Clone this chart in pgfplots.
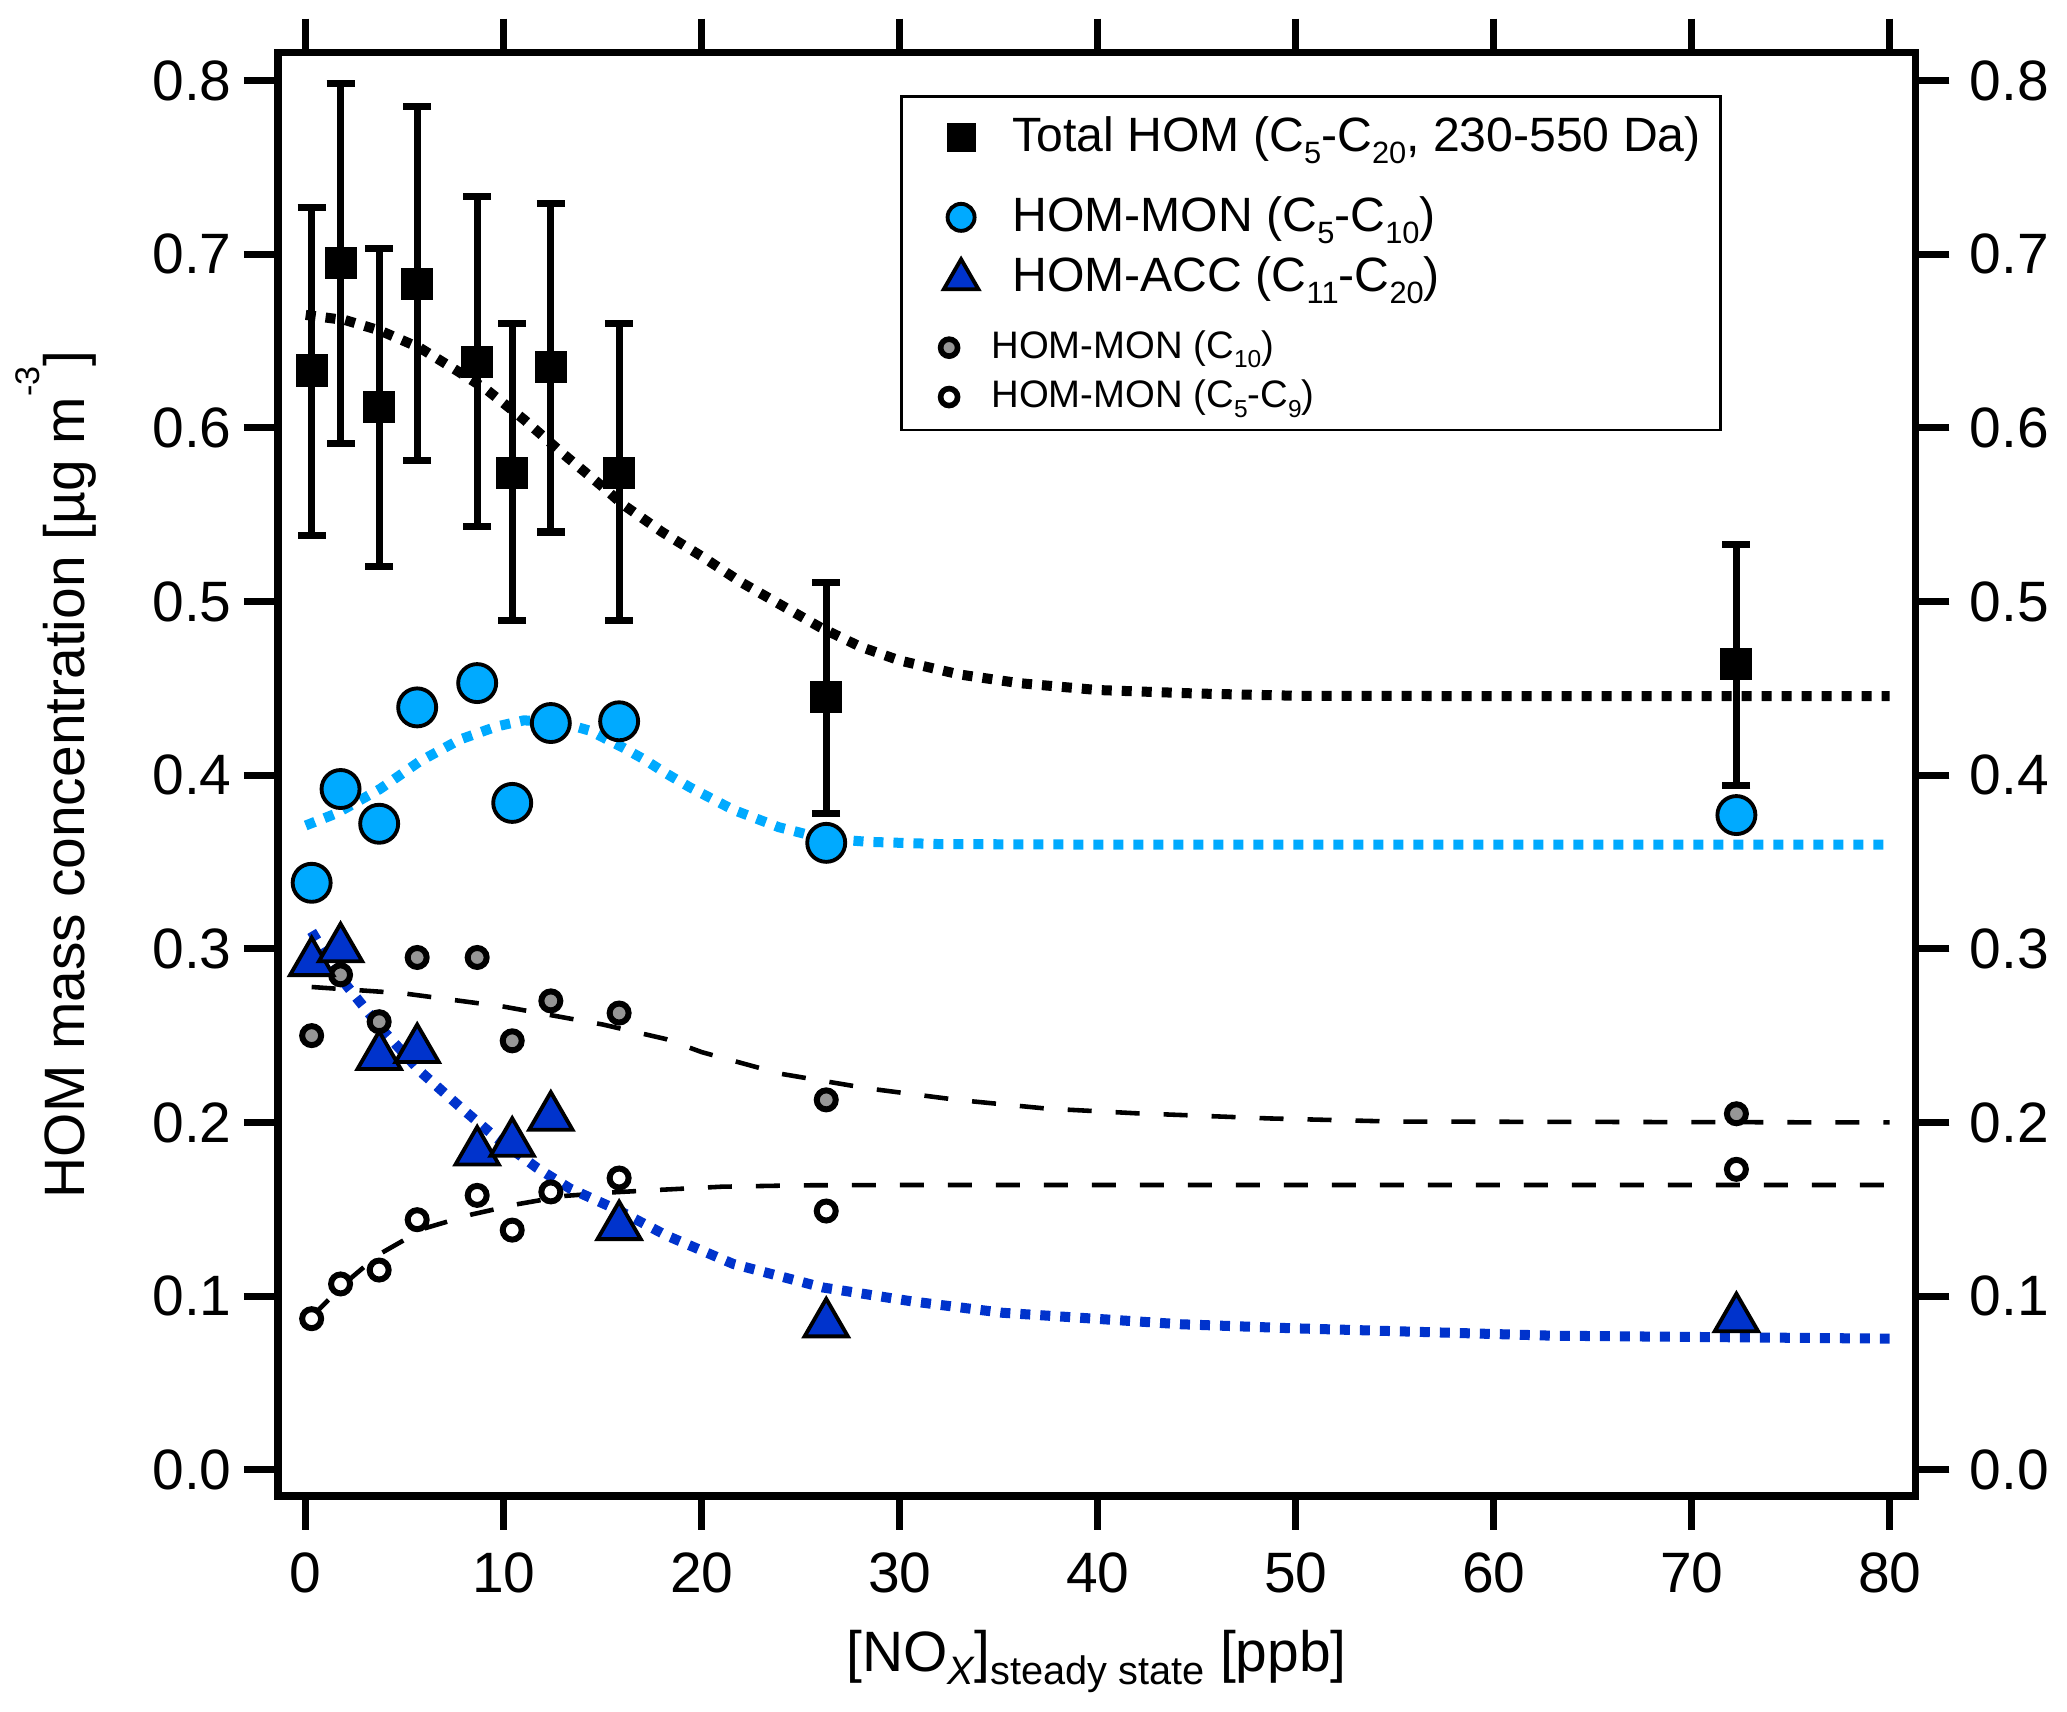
\documentclass[border=0pt]{standalone}
\usepackage{fontspec}
\setmainfont{Liberation Sans}
\usepackage{graphicx}
\usepackage{pgfplots}
\usepackage{pgfplotstable}
\pgfplotsset{compat=1.18}
\definecolor{lblue}{RGB}{0,170,255}
\definecolor{dblue}{RGB}{0,51,204}
\definecolor{mgray}{RGB}{150,150,150}
\newcommand{\sub}[1]{\raisebox{-0.25em}{\scalebox{0.64}{#1}}}
\newcommand{\rb}[3]{\raisebox{0pt}[#1][#2]{#3}}

\pgfplotstableread{
x y ep em
0.30 0.633 0.094 0.095
1.76 0.695 0.103 0.104
3.71 0.612 0.091 0.092
5.63 0.683 0.102 0.102
8.66 0.638 0.095 0.095
10.43 0.574 0.086 0.085
12.38 0.635 0.094 0.095
15.83 0.574 0.086 0.085
26.29 0.445 0.066 0.067
72.26 0.464 0.069 0.070
}\tot
\pgfplotstableread{
x y
0.30 0.338
1.76 0.392
3.71 0.372
5.63 0.439
8.66 0.453
10.43 0.384
12.38 0.430
15.83 0.431
26.29 0.361
72.26 0.377
}\mon
\pgfplotstableread{
x y
0.30 0.292
1.76 0.300
3.71 0.238
5.63 0.242
8.66 0.183
10.43 0.188
12.38 0.203
15.83 0.140
26.29 0.084
72.26 0.087
}\acc
\pgfplotstableread{
x y
0.30 0.250
1.76 0.285
3.71 0.258
5.63 0.295
8.66 0.295
10.43 0.247
12.38 0.270
15.83 0.263
26.29 0.213
72.26 0.205
}\cten
\pgfplotstableread{
x y
0.30 0.087
1.76 0.107
3.71 0.115
5.63 0.144
8.66 0.158
10.43 0.138
12.38 0.160
15.83 0.168
26.29 0.149
72.26 0.173
}\cfive

\pgfplotsset{
  common/.style={
    at={(0,0)}, anchor=south west, scale only axis,
    width=16.374cm, height=14.433cm,
    xmin=-1.4, xmax=81.3, ymin=-0.0151, ymax=0.816,
    xtick={0,10,20,30,40,50,60,70,80},
    ytick={0,0.1,0.2,0.3,0.4,0.5,0.6,0.7,0.8},
    minor tick num=0,
    tick align=outside, major tick length=0.34cm,
    tick style={line width=2pt, black},
    axis line style={line width=2.1pt, black},
    ticklabel style={font=\fontsize{16.2}{19}\selectfont},
    /pgf/number format/assume math mode=true,
    yticklabel style={/pgf/number format/fixed, /pgf/number format/fixed zerofill, /pgf/number format/precision=1},
  },
  dotfit/.style={line width=2.85pt, dash pattern=on 0.1cm off 0.1cm},
  dashfit/.style={line width=1.3pt, black, dash pattern=on 0.24cm off 0.24cm},
}

\begin{document}
\begin{tikzpicture}
\useasboundingbox (-2.78cm,-2.16cm) rectangle (17.89cm,14.96cm);
\begin{axis}[common,
  xticklabel style={yshift=-0.1cm},
  xlabel={[NO\raisebox{-3.7pt}{\fontsize{11.3}{13}\selectfont\itshape X}]\raisebox{-3.7pt}{\fontsize{11.3}{13}\selectfont steady state} [ppb]},
  xlabel style={at={(axis description cs:0.5,-0.1217)}, anchor=base, font=\fontsize{16.2}{19}\selectfont},
  ylabel={HOM mass concentration [µg m\raisebox{0.8em}{\scalebox{0.6}{-3}}]},
  ylabel style={at={(axis description cs:-0.1179,0.5)}, anchor=base, rotate=0, font=\fontsize{16.2}{19}\selectfont},
  legend style={at={(axis description cs:0.3809,0.9699)}, anchor=north west,
    draw=black, line width=0.8pt, fill=white, inner xsep=0.1cm, inner ysep=0pt, outer sep=0pt,
    row sep=0pt, column sep=0.28cm,
    cells={anchor=base west, inner sep=0pt, outer sep=0pt},
    nodes={anchor=base west, inner sep=0pt, outer sep=0pt}},
]
% legend images
\addlegendimage{legend image code/.code={
  \path (0,-0.1cm) (0.7cm,0.1cm);
  \draw[yshift=0.145cm] plot[mark=square*, mark size=0.14cm, mark options={fill=black, draw=black, line width=0.3pt, solid}] coordinates {(0.48cm,0cm)};}}
\addlegendentry{\fontsize{13.7}{16}\selectfont\rb{0.555cm}{0.3cm}{\makebox[6.98cm][l]{Total HOM (C\sub{5}-C\sub{20}, 230-550 Da)}}}
\addlegendimage{legend image code/.code={
  \path (0,-0.1cm) (0.7cm,0.1cm);
  \draw[yshift=0.145cm] plot[mark=*, mark size=0.135cm, mark options={fill=lblue, draw=black, line width=1.1pt, solid}] coordinates {(0.48cm,0cm)};}}
\addlegendentry{\fontsize{13.7}{16}\selectfont\rb{0.688cm}{0.2cm}{HOM-MON (C\sub{5}-C\sub{10})}}
\addlegendimage{legend image code/.code={
  \path (0,-0.1cm) (0.7cm,0.1cm);
  \draw[yshift=0.126cm] plot[mark=triangle*, mark size=0.2cm, mark options={fill=dblue, draw=black, line width=1.1pt, solid}] coordinates {(0.48cm,0cm)};}}
\addlegendentry{\fontsize{13.7}{16}\selectfont\rb{0.486cm}{0.2cm}{HOM-ACC (C\sub{11}-C\sub{20})}}
\addlegendimage{legend image code/.code={
  \path (0,-0.1cm) (0.7cm,0.1cm);
  \draw[yshift=0.105cm] plot[mark=*, mark size=0.085cm, mark options={fill=mgray, draw=black, line width=1.6pt, solid}] coordinates {(0.36cm,0cm)};}}
\addlegendentry{\fontsize{10.9}{13}\selectfont\rb{0.549cm}{0.2cm}{\hspace*{-0.21cm}HOM-MON (C\sub{10})}}
\addlegendimage{legend image code/.code={
  \path (0,-0.21cm) (0.7cm,0.1cm);
  \draw[yshift=0.105cm] plot[mark=*, mark size=0.085cm, mark options={fill=white, draw=black, line width=1.6pt, solid}] coordinates {(0.36cm,0cm)};}}
\addlegendentry{\fontsize{10.9}{13}\selectfont\rb{0.38cm}{0.2cm}{\hspace*{-0.21cm}HOM-MON (C\sub{5}-C\sub{9})}}

% fit curves
\addplot[dashfit, forget plot] coordinates {
(0.3,0.278) (4.9,0.2744) (10,0.2667) (15,0.2564) (18.2,0.248) (20,0.2405) (24,0.228) (28.4,0.2196) (32.9,0.213) (37.4,0.208) (41.9,0.2053) (48.7,0.2023) (55,0.2005) (80,0.200)};
\addplot[dashfit, forget plot] coordinates {
(0.3,0.088) (1.76,0.105) (2.4,0.1115) (3.7,0.124) (6.0,0.139) (8.38,0.147) (10.73,0.153) (13.09,0.1577) (15.45,0.1597) (17.9,0.1612) (21,0.1630) (25,0.1638) (30,0.164) (80,0.164)};
\addplot[dotfit, black, forget plot] coordinates {
(0,0.665) (2,0.662) (3.75,0.656) (5.77,0.646) (7.62,0.633) (9.13,0.622) (11,0.605) (13,0.585) (15,0.566) (16,0.556) (18,0.540) (20,0.526) (22,0.511) (24,0.498) (26,0.485) (28,0.474) (30,0.466) (33,0.458) (36,0.453) (40,0.449) (45,0.447) (50,0.4457) (60,0.4455) (80,0.4455)};
\addplot[dotfit, lblue, forget plot] coordinates {
(0,0.371) (1.56,0.378) (3.75,0.392) (5.77,0.408) (7.79,0.4205) (9.64,0.428) (11,0.4315) (12.67,0.431) (14.35,0.4256) (16,0.416) (17.1,0.409) (18.2,0.401) (19.4,0.393) (21.6,0.380) (23.9,0.370) (26.1,0.3636) (28.4,0.3616) (32,0.3603) (40,0.360) (80,0.360)};
\addplot[dotfit, dblue, forget plot] coordinates {
(0.3,0.310) (1.56,0.286) (3.75,0.255) (5.77,0.2295) (7.79,0.209) (9.64,0.191) (11.66,0.174) (13.34,0.162) (15.87,0.149) (18.2,0.135) (21.6,0.1185) (26.1,0.105) (30.6,0.097) (35.2,0.0904) (39.7,0.0871) (44.2,0.0838) (49.8,0.0815) (63,0.0772) (80,0.0755)};

% data
\addplot[forget plot, only marks, mark=square*, mark size=0.155cm,
  mark options={fill=black, draw=black, line width=0.3pt},
  error bars/.cd, y dir=both, y explicit,
  error mark=-,
  error bar style={line width=2pt, black, solid},
  error mark options={rotate=90, line width=2pt, mark size=0.14cm, black, solid}]
  table[x=x, y=y, y error plus=ep, y error minus=em] {\tot};
\addplot[forget plot, only marks, mark=*, mark size=0.19cm,
  mark options={fill=lblue, draw=black, line width=1.1pt}] table[x=x,y=y] {\mon};
\addplot[forget plot, only marks, mark=*, mark size=0.095cm,
  mark options={fill=mgray, draw=black, line width=1.7pt}] table[x=x,y=y] {\cten};
\addplot[forget plot, only marks, mark=*, mark size=0.095cm,
  mark options={fill=white, draw=black, line width=1.7pt}] table[x=x,y=y] {\cfive};
\addplot[forget plot, only marks, mark=triangle*, mark size=0.25cm,
  mark options={fill=dblue, draw=black, line width=1.1pt}] table[x=x,y=y] {\acc};
\end{axis}
\begin{axis}[common, hide x axis, axis y line*=right,
  yticklabel pos=right, yticklabel style={xshift=0.08cm}]
\end{axis}
\end{tikzpicture}
\end{document}
